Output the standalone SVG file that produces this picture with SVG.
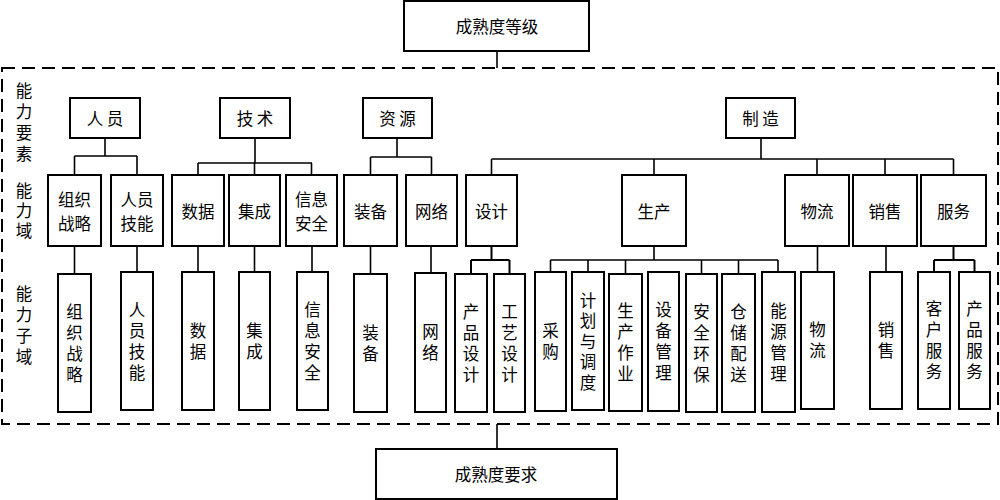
<svg xmlns="http://www.w3.org/2000/svg" width="1000" height="500" viewBox="0 0 1000 500">
<style>
.box{fill:#fff;stroke:#000;stroke-width:2}
.ln{stroke:#000;stroke-width:1.6;fill:none}
.dash{fill:none;stroke:#000;stroke-width:2;stroke-dasharray:13 7}
.t{font-family:"Noto Sans CJK SC","Liberation Sans",sans-serif;font-size:16.5px;text-anchor:middle;dominant-baseline:central;fill:#000}
.v{font-family:"Noto Sans CJK SC","Liberation Sans",sans-serif;font-size:16.5px;text-anchor:middle;writing-mode:vertical-rl;text-orientation:upright;letter-spacing:4.5px;fill:#000}
</style>
<rect width="1000" height="500" fill="#fff"/>
<rect class="dash" x="2" y="68" width="996" height="356"/>
<g id="labels">
<text class="v" x="24" y="124">能力要素</text>
<text class="v" x="24" y="212" style="letter-spacing:3.5px">能力域</text>
<text class="v" x="24" y="327">能力子域</text>
</g>
<g id="connectors">
<path class="ln" d="M497 51V68M497 424V449"/>
<path class="ln" d="M105 138V156M74.5 156H137M74.5 156V175M137 156V175"/>
<path class="ln" d="M255 138V163M198 163H312M198 163V175M254.5 163V175M311.5 163V175"/>
<path class="ln" d="M397 138V157M370.5 157H431.5M370.5 157V175M431.5 157V175"/>
<path class="ln" d="M761 138V159M491.5 159H953.5M491.5 159V175M654 159V175M817 159V175M885 159V175M953.5 159V175"/>
<path class="ln" d="M74.5 246V274M137 246V272M198 246V272M254.5 246V272M312 246V272M370.5 246V274M431 246V273"/>
<path class="ln" d="M491.5 246V260M471 260H509.5M471 260V274M509.5 260V274" style="stroke-width:2"/>
<path class="ln" d="M654 246V260M550.5 260H778M550.5 260V272M588 260V272M625.5 260V274M701.5 260V274M738.5 260V274M778 260V272"/>
<path class="ln" d="M817.5 246V272M886 246V272"/>
<path class="ln" d="M953.5 246V260M934 260H974.5M934 260V272M974.5 260V272" style="stroke-width:2"/>
</g>
<g id="top"><rect class="box" x="404" y="1" width="185" height="50"/><text class="t" x="497" y="26">成熟度等级</text></g>
<g id="bottom"><rect class="box" x="376" y="449" width="241" height="50"/><text class="t" x="496" y="474">成熟度要求</text></g>
<g id="l1-renyuan"><rect class="box" x="70" y="98" width="70" height="40"/><text class="t" x="105" y="118">人 员</text></g>
<g id="l1-jishu"><rect class="box" x="220" y="98" width="70" height="40"/><text class="t" x="255" y="118">技 术</text></g>
<g id="l1-ziyuan"><rect class="box" x="363" y="98" width="69" height="40"/><text class="t" x="397.5" y="118">资 源</text></g>
<g id="l1-zhizao"><rect class="box" x="726" y="98" width="69" height="40"/><text class="t" x="760.5" y="118">制 造</text></g>
<g id="l2-zzzl"><rect class="box" x="48" y="175" width="53" height="71"/><text class="t"><tspan x="74.5" y="199">组织</tspan><tspan x="74.5" y="223">战略</tspan></text></g>
<g id="l2-ryjn"><rect class="box" x="111" y="175" width="52" height="71"/><text class="t"><tspan x="137" y="199">人员</tspan><tspan x="137" y="223">技能</tspan></text></g>
<g id="l2-shuju"><rect class="box" x="172" y="175" width="52" height="71"/><text class="t" x="198" y="211">数据</text></g>
<g id="l2-jicheng"><rect class="box" x="229" y="175" width="51" height="71"/><text class="t" x="254.5" y="211">集成</text></g>
<g id="l2-xxaq"><rect class="box" x="286" y="175" width="51" height="71"/><text class="t"><tspan x="311.5" y="199">信息</tspan><tspan x="311.5" y="223">安全</tspan></text></g>
<g id="l2-zhuangbei"><rect class="box" x="344" y="175" width="53" height="71"/><text class="t" x="370.5" y="211">装备</text></g>
<g id="l2-wangluo"><rect class="box" x="406" y="175" width="51" height="71"/><text class="t" x="431.5" y="211">网络</text></g>
<g id="l2-sheji"><rect class="box" x="466" y="175" width="51" height="71"/><text class="t" x="491.5" y="211">设计</text></g>
<g id="l2-shengchan"><rect class="box" x="622" y="175" width="64" height="71"/><text class="t" x="654" y="211">生产</text></g>
<g id="l2-wuliu"><rect class="box" x="785" y="175" width="64" height="71"/><text class="t" x="817" y="211">物流</text></g>
<g id="l2-xiaoshou"><rect class="box" x="853" y="175" width="64" height="71"/><text class="t" x="885" y="211">销售</text></g>
<g id="l2-fuwu"><rect class="box" x="921" y="175" width="65" height="71"/><text class="t" x="953.5" y="211">服务</text></g>
<g id="l3-zzzl"><rect class="box" x="58" y="274" width="33" height="138"/><text class="v" x="74.5" y="345">组织战略</text></g>
<g id="l3-ryjn"><rect class="box" x="121" y="272" width="32" height="138"/><text class="v" x="137" y="343">人员技能</text></g>
<g id="l3-shuju"><rect class="box" x="182" y="272" width="32" height="138"/><text class="v" x="198" y="343">数据</text></g>
<g id="l3-jicheng"><rect class="box" x="239" y="272" width="31" height="138"/><text class="v" x="254.5" y="343">集成</text></g>
<g id="l3-xxaq"><rect class="box" x="297" y="272" width="31" height="138"/><text class="v" x="312.5" y="343">信息安全</text></g>
<g id="l3-zhuangbei"><rect class="box" x="354" y="274" width="33" height="138"/><text class="v" x="370.5" y="345">装备</text></g>
<g id="l3-wangluo"><rect class="box" x="415" y="273" width="31" height="139"/><text class="v" x="430.5" y="344.5">网络</text></g>
<g id="l3-cpsj"><rect class="box" x="455" y="274" width="32" height="138"/><text class="v" x="471" y="345">产品设计</text></g>
<g id="l3-gysj"><rect class="box" x="494" y="274" width="31" height="138"/><text class="v" x="509.5" y="345">工艺设计</text></g>
<g id="l3-caigou"><rect class="box" x="535" y="272" width="31" height="139"/><text class="v" x="550.5" y="343.5">采购</text></g>
<g id="l3-jhdd"><rect class="box" x="572" y="272" width="32" height="138"/><text class="v" x="588" y="343.5" style="letter-spacing:4px">计划与调度</text></g>
<g id="l3-sczy"><rect class="box" x="609" y="274" width="33" height="137"/><text class="v" x="625.5" y="344.5">生产作业</text></g>
<g id="l3-sbgl"><rect class="box" x="648" y="272" width="31" height="139"/><text class="v" x="663.5" y="343.5">设备管理</text></g>
<g id="l3-aqhb"><rect class="box" x="686" y="274" width="31" height="138"/><text class="v" x="701.5" y="345">安全环保</text></g>
<g id="l3-ccps"><rect class="box" x="722" y="274" width="33" height="138"/><text class="v" x="738.5" y="345">仓储配送</text></g>
<g id="l3-nygl"><rect class="box" x="762" y="272" width="33" height="140"/><text class="v" x="778.5" y="344">能源管理</text></g>
<g id="l3-wuliu"><rect class="box" x="801" y="272" width="33" height="137"/><text class="v" x="817.5" y="342.5">物流</text></g>
<g id="l3-xiaoshou"><rect class="box" x="870" y="272" width="32" height="137"/><text class="v" x="886" y="342.5">销售</text></g>
<g id="l3-khfw"><rect class="box" x="918" y="272" width="32" height="137"/><text class="v" x="934" y="342.5">客户服务</text></g>
<g id="l3-cpfw"><rect class="box" x="959" y="272" width="31" height="137"/><text class="v" x="974.5" y="342.5">产品服务</text></g>
</svg>
